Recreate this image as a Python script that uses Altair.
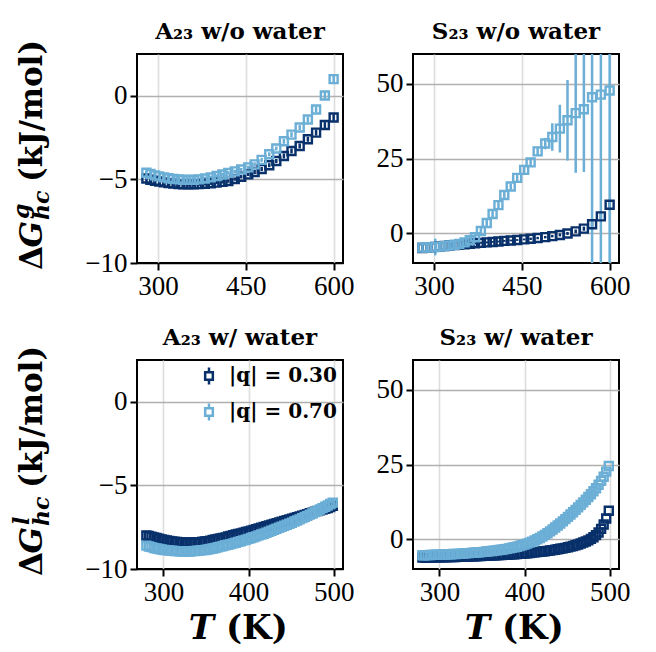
import altair as alt
import pandas as pd

# ---------------- data ----------------
LABELS = ["|q| = 0.30", "|q| = 0.70"]
COLORS = ["#08306b", "#6baed6"]

TITLES = ["A₂₃ w/o water", "S₂₃ w/o water", "A₂₃ w/ water", "S₂₃ w/ water"]

T_TOP = [280, 287, 295, 302, 310, 318, 326, 335, 343, 352, 361, 370, 380, 390, 400,
         410, 420, 431, 442, 454, 465, 477, 490, 502, 515, 528, 542, 556, 570, 585, 600]

T_BOT = [280, 283, 286, 289, 292, 295, 298, 301, 304, 307,
         310, 313, 316, 319, 322, 325, 328, 331, 334, 337,
         340, 343, 346, 349, 352, 355, 358, 361, 364, 367,
         370, 373, 376, 379, 382, 385, 388, 391, 394, 397,
         400, 403, 406, 409, 412, 415, 418, 421, 424, 427,
         430, 433, 436, 439, 442, 445, 448, 451, 454, 457,
         460, 463, 466, 469, 472, 475, 478, 481, 484, 487,
         490, 493, 496, 499]

# A23 w/o water
A_VAC_30 = [-4.95, -5.02, -5.08, -5.13, -5.18, -5.22, -5.25, -5.28, -5.29, -5.30, -5.29,
            -5.28, -5.26, -5.23, -5.19, -5.15, -5.10, -4.98, -4.84, -4.70, -4.56, -4.38,
            -4.15, -3.90, -3.60, -3.30, -3.00, -2.60, -2.20, -1.75, -1.30]
A_VAC_30_ERR = [0.10, 0.10, 0.10, 0.10, 0.10, 0.10, 0.10, 0.10, 0.10, 0.10, 0.10, 0.10,
                0.10, 0.10, 0.10, 0.10, 0.10, 0.10, 0.10, 0.10, 0.12, 0.12, 0.12, 0.12,
                0.15, 0.15, 0.15, 0.15, 0.18, 0.18, 0.20]
A_VAC_70 = [-4.60, -4.68, -4.76, -4.82, -4.88, -4.93, -4.97, -5.00, -5.02, -5.03, -5.02,
            -5.00, -4.95, -4.88, -4.80, -4.71, -4.61, -4.52, -4.41, -4.28, -4.10, -3.83,
            -3.50, -3.15, -2.72, -2.32, -1.90, -1.42, -0.82, 0.02, 1.00]
A_VAC_70_ERR = [0.10, 0.10, 0.10, 0.10, 0.10, 0.10, 0.10, 0.10, 0.10, 0.10, 0.10, 0.10,
                0.10, 0.10, 0.10, 0.10, 0.10, 0.10, 0.10, 0.10, 0.12, 0.12, 0.12, 0.12,
                0.15, 0.15, 0.15, 0.18, 0.18, 0.20, 0.25]

# S23 w/o water
S_VAC_30 = [-5.0, -4.9, -4.75, -4.6, -4.45, -4.3, -4.15, -4.0, -3.85, -3.7, -3.55, -3.4,
            -3.25, -3.1, -2.95, -2.8, -2.6, -2.45, -2.3, -2.1, -1.9, -1.65, -1.35, -1.0,
            -0.6, -0.1, 0.6, 1.5, 3.0, 5.6, 9.5]
S_VAC_30_ERR = [0.3, 0.3, 0.3, 0.3, 0.3, 0.3, 0.3, 0.3, 0.3, 0.3, 0.3, 0.3, 0.3, 0.3, 0.3,
                0.3, 0.3, 0.3, 0.3, 0.3, 0.4, 0.4, 0.4, 0.4, 0.5, 0.5, 0.6, 0.7, 0.8, 1.0, 1.2]
S_VAC_70 = [-4.8, -4.8, -4.75, -4.65, -4.5, -4.35, -4.15, -3.9, -3.6, -3.1, -2.4, -1.4,
            0.7, 3.4, 6.4, 9.4, 12.8, 15.6, 18.5, 21.2, 23.7, 27.4, 30.0, 32.2, 35.0, 37.8,
            40.2, 41.5, 45.5, 46.4, 47.8]
S_VAC_70_ERR = [0.6, 0.6, 0.8, 2.8, 0.8, 0.8, 0.9, 0.9, 1.0, 1.0, 1.0, 1.0, 1.0, 1.0, 1.0,
                1.0, 1.0, 1.0, 1.1, 1.2, 1.4, 1.6, 1.9, 4.6, 8.0, 13.5, 20.0, 21.0, 80.0,
                80.0, 80.0]

# A23 w/ water
A_WAT_30 = [-8.00, -8.03, -8.07, -8.11, -8.15, -8.19, -8.23, -8.26, -8.29, -8.32,
            -8.35, -8.37, -8.38, -8.40, -8.41, -8.42, -8.42, -8.42, -8.41, -8.41,
            -8.40, -8.39, -8.37, -8.35, -8.33, -8.30, -8.27, -8.24, -8.21, -8.18,
            -8.15, -8.11, -8.06, -8.02, -7.98, -7.94, -7.90, -7.87, -7.83, -7.79,
            -7.75, -7.71, -7.66, -7.62, -7.57, -7.53, -7.48, -7.44, -7.39, -7.35,
            -7.30, -7.26, -7.21, -7.17, -7.12, -7.08, -7.03, -6.99, -6.94, -6.90,
            -6.85, -6.81, -6.76, -6.72, -6.67, -6.63, -6.58, -6.54, -6.49, -6.45,
            -6.40, -6.35, -6.29, -6.22]
A_WAT_70 = [-8.60, -8.65, -8.69, -8.74, -8.77, -8.80, -8.83, -8.86, -8.87, -8.89,
            -8.90, -8.92, -8.93, -8.94, -8.95, -8.95, -8.95, -8.95, -8.93, -8.92,
            -8.90, -8.89, -8.87, -8.86, -8.83, -8.80, -8.77, -8.74, -8.70, -8.66,
            -8.62, -8.58, -8.55, -8.51, -8.47, -8.43, -8.38, -8.34, -8.29, -8.25,
            -8.20, -8.15, -8.10, -8.05, -7.99, -7.94, -7.89, -7.83, -7.77, -7.71,
            -7.65, -7.59, -7.53, -7.47, -7.41, -7.35, -7.29, -7.23, -7.16, -7.10,
            -7.03, -6.96, -6.89, -6.82, -6.75, -6.68, -6.60, -6.52, -6.44, -6.36,
            -6.28, -6.20, -6.11, -6.03]

# S23 w/ water
S_WAT_30 = [-6.20, -6.19, -6.17, -6.16, -6.14, -6.12, -6.11, -6.09, -6.07, -6.04,
            -6.01, -5.99, -5.97, -5.96, -5.94, -5.91, -5.88, -5.84, -5.81, -5.78,
            -5.75, -5.72, -5.69, -5.66, -5.62, -5.58, -5.53, -5.49, -5.44, -5.40,
            -5.35, -5.31, -5.26, -5.22, -5.16, -5.10, -5.04, -4.98, -4.92, -4.86,
            -4.80, -4.71, -4.62, -4.53, -4.44, -4.35, -4.26, -4.16, -4.04, -3.92,
            -3.80, -3.67, -3.53, -3.40, -3.24, -3.08, -2.91, -2.73, -2.52, -2.29,
            -2.05, -1.78, -1.48, -1.14, -0.78, -0.40, 0.10, 0.65, 1.35, 2.25,
            3.45, 4.90, 6.90, 9.50]
S_WAT_70 = [-5.40, -5.37, -5.34, -5.31, -5.28, -5.25, -5.22, -5.19, -5.16, -5.13,
            -5.10, -5.04, -5.00, -4.96, -4.93, -4.85, -4.79, -4.73, -4.67, -4.61,
            -4.55, -4.49, -4.43, -4.36, -4.27, -4.15, -4.06, -3.97, -3.88, -3.77,
            -3.65, -3.53, -3.40, -3.25, -3.09, -2.90, -2.72, -2.53, -2.29, -2.05,
            -1.80, -1.50, -1.18, -0.82, -0.44, -0.05, 0.40, 0.88, 1.42, 1.98,
            2.60, 3.24, 3.90, 4.57, 5.24, 5.95, 6.70, 7.45, 8.25, 9.03,
            9.80, 10.64, 11.48, 12.32, 13.20, 14.10, 15.05, 16.03, 17.05, 18.20,
            19.50, 20.90, 22.60, 24.50]

X_TICKS_TOP = [300, 450, 600]
X_TICKS_BOT = [300, 400, 500]
Y_TICKS_A = [-10, -5, 0]
Y_TICKS_S = [0, 25, 50]
X_DOM_TOP = [264, 616]
X_DOM_BOT = [269, 511]
Y_DOM_A = [-10, 2.5]
Y_DOM_S = [-10, 60]

YTITLE_G = ["Δ", "G", "g", "hc", "(kJ/mol)"]
YTITLE_L = ["Δ", "G", "l", "hc", "(kJ/mol)"]
XTITLE = ["T", "(K)"]

# ---------------- layout ----------------
W, H = 206, 209
SERIF = "DejaVu Serif"
TICKFONT = "Liberation Serif"
LEG_PATH = "M-0.45,-0.45H0.45V0.45H-0.45Z M0,-0.45V-1 M0,0.45V1"


def txt(s, style, size, dx, dy, align, x, y, angle=0, weight="bold"):
    return alt.Chart(pd.DataFrame({"s": [s]})).mark_text(
        font=SERIF, fontWeight=weight, fontStyle=style, fontSize=size, angle=angle,
        align=align, baseline="alphabetic", dx=dx, dy=dy, color="black"
    ).encode(x=alt.value(x), y=alt.value(y), text="s:N")


def y_title(pieces):
    X0, Y0 = -95, 167
    return [
        txt(pieces[0], "normal", 31, -25, 0, "right", X0, Y0, 270),
        txt(pieces[1], "italic", 31, 0, 0, "right", X0, Y0, 270),
        txt(pieces[2], "italic", 22, 2, -13, "left", X0, Y0, 270),
        txt(pieces[3], "italic", 22, 1, 7, "left", X0, Y0, 270),
        txt(pieces[4], "normal", 31, 39, 0, "left", X0, Y0, 270),
    ]


def x_title(pieces):
    XC, YB = W / 2 - 26, H + 70
    return [
        txt(pieces[0], "italic", 34, 0, 0, "right", XC, YB),
        txt(pieces[1], "normal", 34, 12, 0, "left", XC, YB),
    ]


def panel(T, v30, e30, v70, e70, xdom, xticks, ydom, yticks, title,
          ytitle=None, xtitle=False, legend=False):
    n = len(T)
    df = pd.DataFrame({
        "T": list(T) + list(T),
        "G": list(v30) + list(v70),
        "q": [LABELS[0]] * n + [LABELS[1]] * n,
    })
    has_err = e30 is not None
    if has_err:
        df["err"] = list(e30) + list(e70)
        df["lo"] = df["G"] - df["err"]
        df["hi"] = df["G"] + df["err"]

    xs = alt.Scale(domain=xdom, nice=False, zero=False)
    ys = alt.Scale(domain=ydom, nice=False, zero=False)
    edge = ydom[0]
    xa = alt.Axis(values=xticks, title=None)
    ya = alt.Axis(values=yticks, title=None,
                  gridColor={"condition": {"test": f"datum.value === {edge}", "value": "black"},
                             "value": "#b0b0b0"})
    cs = alt.Scale(domain=LABELS, range=COLORS)
    leg = None
    if legend:
        leg = alt.Legend(title=None, orient="top-right", offset=6, symbolType=LEG_PATH,
                         symbolSize=290, symbolStrokeWidth=2.5, symbolFillColor="transparent",
                         labelFont=SERIF, labelFontSize=20, labelFontWeight="bold",
                         labelColor="black", rowPadding=8, padding=0, labelOffset=10)

    base = alt.Chart(df)
    layers = []
    if has_err:
        layers.append(base.mark_rule(strokeWidth=2.5, clip=True).encode(
            x=alt.X("T:Q", scale=xs, axis=xa),
            y=alt.Y("lo:Q", scale=ys, axis=ya),
            y2="hi:Q",
            color=alt.Color("q:N", scale=cs, legend=leg),
        ))
    layers.append(base.mark_point(shape="square", filled=False, size=64, strokeWidth=2.4,
                                  opacity=1, clip=True).encode(
        x=alt.X("T:Q", scale=xs, axis=xa),
        y=alt.Y("G:Q", scale=ys, axis=ya),
        color=alt.Color("q:N", scale=cs, legend=leg),
    ))
    layers.append(txt(title, "normal", 23, 0, 0, "center", W / 2, -15))
    if ytitle is not None:
        layers += y_title(ytitle)
    if xtitle:
        layers += x_title(XTITLE)
    return alt.layer(*layers).properties(width=W, height=H)


p1 = panel(T_TOP, A_VAC_30, A_VAC_30_ERR, A_VAC_70, A_VAC_70_ERR, X_DOM_TOP, X_TICKS_TOP,
           Y_DOM_A, Y_TICKS_A, TITLES[0], ytitle=YTITLE_G)
p2 = panel(T_TOP, S_VAC_30, S_VAC_30_ERR, S_VAC_70, S_VAC_70_ERR, X_DOM_TOP, X_TICKS_TOP,
           Y_DOM_S, Y_TICKS_S, TITLES[1])
p3 = panel(T_BOT, A_WAT_30, None, A_WAT_70, None, X_DOM_BOT, X_TICKS_BOT,
           Y_DOM_A, Y_TICKS_A, TITLES[2], ytitle=YTITLE_L, xtitle=True, legend=True)
p4 = panel(T_BOT, S_WAT_30, None, S_WAT_70, None, X_DOM_BOT, X_TICKS_BOT,
           Y_DOM_S, Y_TICKS_S, TITLES[3], xtitle=True)

chart = alt.concat(p1, p2, p3, p4, columns=2, spacing={"row": 97, "column": 70},
                   bounds="flush").resolve_scale(
    color="independent", x="independent", y="independent"
).resolve_legend(color="independent").properties(
    padding={"left": 2, "top": 12, "right": 0, "bottom": 0},
    background="white",
).configure_view(
    stroke="black", strokeWidth=2
).configure_axis(
    grid=True, gridWidth=1.6, domain=False, ticks=True, tickColor="black", tickWidth=2,
    tickSize=7, labelFont=TICKFONT, labelFontSize=27, labelColor="black", labelPadding=3,
)

chart.save("out.html", embed_options={"renderer": "svg", "actions": False})
